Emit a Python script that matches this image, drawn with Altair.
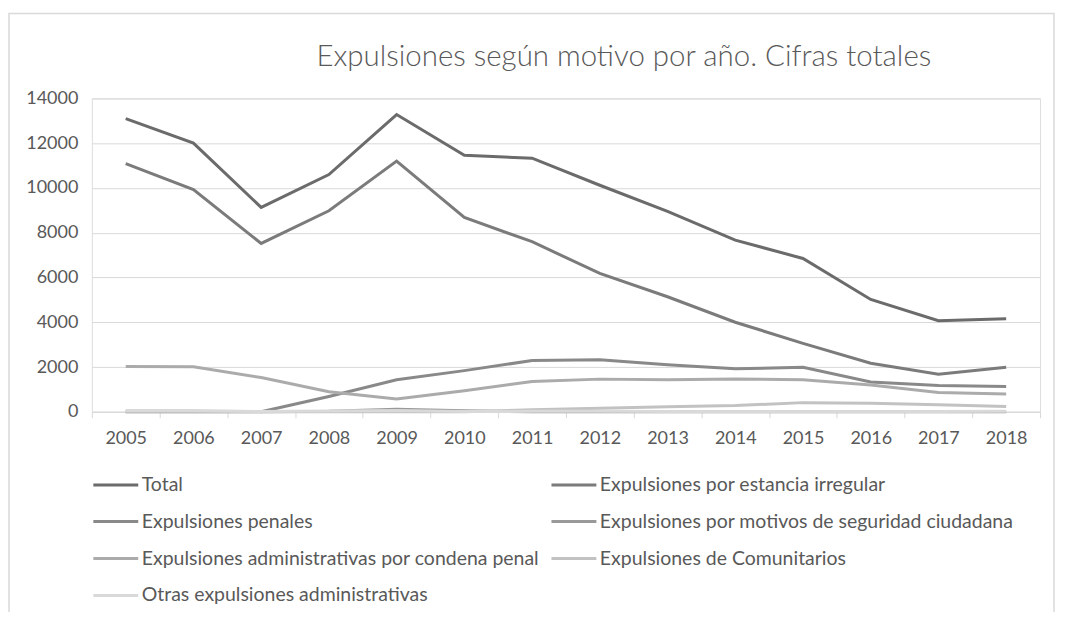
import altair as alt
import pandas as pd

years = list(range(2005, 2019))
series = [
    "Total",
    "Expulsiones por estancia irregular",
    "Expulsiones penales",
    "Expulsiones por motivos de seguridad ciudadana",
    "Expulsiones administrativas por condena penal",
    "Expulsiones de Comunitarios",
    "Otras expulsiones administrativas",
]
colors = ["#6b6b6b", "#7b7b7b", "#898989", "#999999", "#ababab", "#c2c2c2", "#d9d9d9"]
title_text = "Expulsiones según motivo por año. Cifras totales"

total = [13100, 12000, 9130, 10600, 13280, 11460, 11330, 10120, 8950, 7670, 6850, 5020, 4070, 4160]
irregular = [11090, 9930, 7520, 8980, 11200, 8680, 7600, 6180, 5140, 4000, 3060, 2170, 1680, 1990]
penales = [None, None, 0, 680, 1430, 1840, 2290, 2320, 2100, 1920, 1990, 1330, 1170, 1130]
seguridad = [0, 0, 0, 20, 110, 50, 0, 0, 0, 0, 0, 0, 0, 0]
admin_condena = [2020, 2010, 1530, 900, 570, 940, 1350, 1460, 1430, 1470, 1430, 1200, 860, 800]
comunitarios = [0, 0, 0, 0, 0, 0, 90, 160, 230, 280, 410, 380, 310, 240]
otras = [60, 60, 10, 40, 60, 10, 20, 20, 10, 10, 10, 10, 10, 30]

values = [total, irregular, penales, seguridad, admin_condena, comunitarios, otras]
rows = []
for name, vals in zip(series, values):
    for y, v in zip(years, vals):
        if v is not None:
            rows.append({"year": str(y), "serie": name, "value": v})
df = pd.DataFrame(rows)

FONT = "Lato"
TXT = "#595959"

lines = alt.Chart(df).mark_line(strokeWidth=3).encode(
    x=alt.X("year:O", bandPosition=0.5,
            scale=alt.Scale(type="band", paddingInner=0, paddingOuter=0),
            axis=alt.Axis(title=None, labelAngle=0, tickBand="extent", domainColor="#d9d9d9",
                          tickColor="#d9d9d9", tickSize=6, labelFontSize=18, labelColor=TXT,
                          labelFont=FONT, labelPadding=12, grid=False)),
    y=alt.Y("value:Q", scale=alt.Scale(domain=[0, 14000], nice=False),
            axis=alt.Axis(title=None, values=list(range(0, 14001, 2000)), format="d", domain=False,
                          ticks=False, gridColor="#d9d9d9", gridWidth=1, labelFontSize=18,
                          labelColor=TXT, labelFont=FONT, labelPadding=14)),
    color=alt.Color("serie:N", scale=alt.Scale(domain=series, range=colors),
                    legend=alt.Legend(title=None, orient="none", legendX=0, legendY=363, columns=2,
                                      symbolType="stroke", symbolSize=2025, symbolStrokeWidth=3,
                                      labelFontSize=19.5, labelColor=TXT, labelFont=FONT,
                                      labelLimit=600, labelOffset=2, rowPadding=3,
                                      columnPadding=5, direction="horizontal")),
    order=alt.Order("serie:N"),
)

border = alt.Chart(pd.DataFrame({"a": [0]})).mark_rect(fill=None, stroke="#d9d9d9", strokeWidth=1.5).encode(
    x=alt.value(-83), x2=alt.value(964), y=alt.value(-85), y2=alt.value(600)
)

title = alt.Chart(pd.DataFrame({"t": [title_text]})).mark_text(
    font=FONT, fontSize=29.5, fontWeight=300, color=TXT, align="center", baseline="alphabetic"
).encode(text="t:N", x=alt.value(533), y=alt.value(-32))

chart = alt.layer(border, lines, title).properties(
    width=950, height=314,
    autosize=alt.AutoSizeParams(type="none"),
    padding={"left": 84, "top": 90, "right": 20, "bottom": 200},
).configure_view(stroke=None).configure(background="white")

chart.save("out.html", embed_options={"renderer": "svg", "actions": False})
